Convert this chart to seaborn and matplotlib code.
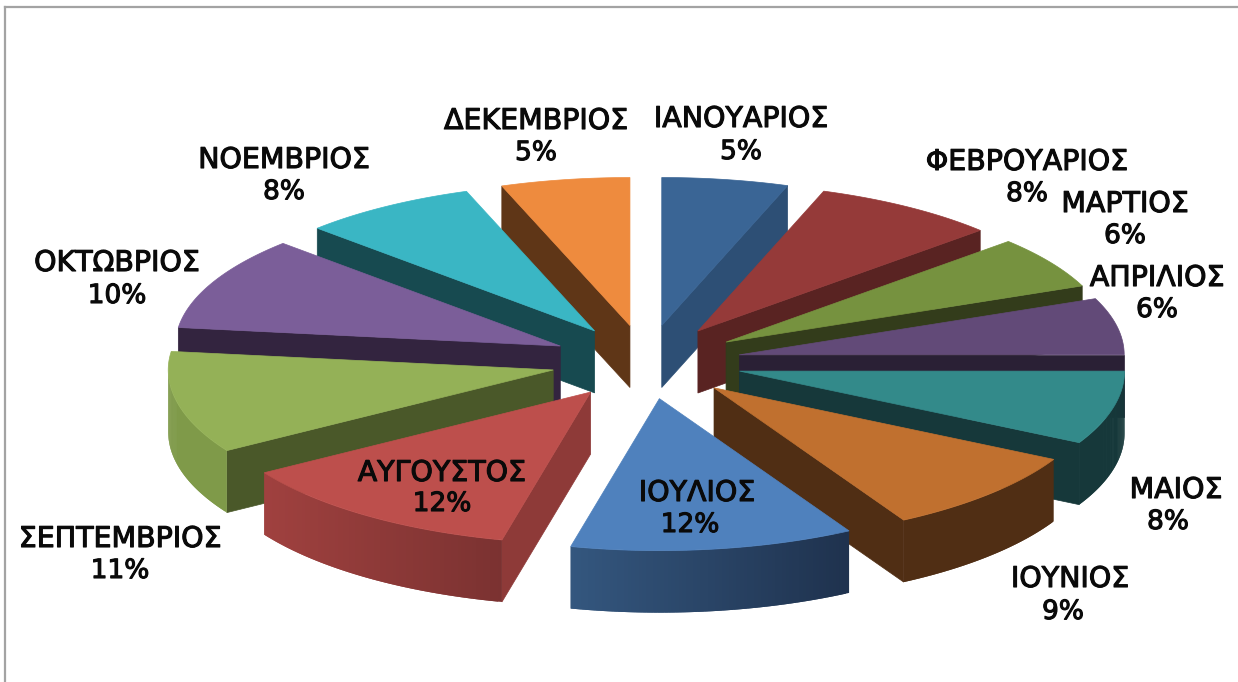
import numpy as np
import seaborn as sns
import matplotlib.pyplot as plt
import matplotlib.patheffects as pe
from matplotlib.colors import to_rgb

months = ['ΙΑΝΟΥΑΡΙΟΣ', 'ΦΕΒΡΟΥΑΡΙΟΣ', 'ΜΑΡΤΙΟΣ', 'ΑΠΡΙΛΙΟΣ', 'ΜΑΙΟΣ', 'ΙΟΥΝΙΟΣ',
          'ΙΟΥΛΙΟΣ', 'ΑΥΓΟΥΣΤΟΣ', 'ΣΕΠΤΕΜΒΡΙΟΣ', 'ΟΚΤΩΒΡΙΟΣ', 'ΝΟΕΜΒΡΙΟΣ', 'ΔΕΚΕΜΒΡΙΟΣ']
# printed percentages, and the shares
labels = [5, 8, 6, 6, 8, 9, 12, 12, 11, 10, 8, 5]
shares = [5.3, 7.8, 5.7, 6.2, 7.8, 9.0, 11.9, 12.4, 10.9, 10.2, 7.4, 5.4]

top_colors = ['#3a6595', '#953a39', '#76923f', '#624a78', '#338a8a', '#c0702f',
              '#4f81bd', '#bd4f4c', '#94b157', '#7b5e99', '#3ab6c4', '#ee8b3e']
face_colors = ['#2d4f75', '#592322', '#333c1b', '#2a2035', '#16383a', '#502e14',
               '#2d4f75', '#8e3a38', '#4a5829', '#33243f', '#174a50', '#5f3617']
wall_left = ['#2d4f75', '#592322', '#333c1b', '#2a2035', '#16383a', '#502e14',
             '#34577f', '#a0413f', '#7f9a49', '#33243f', '#174a50', '#5f3617']
wall_right = ['#2d4f75', '#592322', '#333c1b', '#2a2035', '#16383a', '#502e14',
              '#1f324e', '#7b3231', '#7f9a49', '#33243f', '#174a50', '#5f3617']
pull = [1, 1, 1, 1, 1.015, 1, 1, 1, 1, 1, 1, 1]

name_pos = [(741, 119), (1027, 162), (1125, 204), (1157, 278), (1176, 490), (1070, 579),
            (697, 493), (442, 473), (120, 539), (117, 263), (284, 160), (536, 121)]
value_pos = [(741, 152), (1027, 194), (1125, 236), (1157, 310), (1168, 522), (1063, 612),
             (690, 525), (442, 504), (120, 571), (117, 296), (284, 192), (536, 153)]

# pie geometry in pixels, the front half of the rim is a bit rounder
CX, CY = 646, 362
RX, RY, RY_FRONT = 385, 148, 152
EXPLODE_X, EXPLODE_Y = 95, 37
DEPTH = 62


def rim(apex, theta):
    # theta in degrees, clockwise from the top of the pie
    t = np.radians(theta)
    c = np.cos(t)
    return apex[0] + RX * np.sin(t), apex[1] - np.where(c < 0, RY_FRONT, RY) * c


def drawSlice(ax, start, end, i):
    mid = np.radians((start + end) / 2)
    apex = (CX + pull[i] * EXPLODE_X * np.sin(mid), CY - pull[i] * EXPLODE_Y * np.cos(mid))

    # cut faces that look towards the viewer
    for angle, seen in ((end, np.sin(np.radians(end)) > 1e-6), (start, np.sin(np.radians(start)) < -1e-6)):
        if seen:
            x, y = rim(apex, angle)
            ax.fill([apex[0], x, x, apex[0]], [apex[1], y, y + DEPTH, apex[1] + DEPTH],
                    color=face_colors[i], lw=0.5, zorder=2)

    # outer wall, only the front half of the rim shows
    lo, hi = max(start, 90), min(end, 270)
    if hi > lo:
        steps = np.linspace(lo, hi, 80)
        xs, ys = rim(apex, steps)
        left, right = np.array(to_rgb(wall_left[i])), np.array(to_rgb(wall_right[i]))
        for k in range(len(steps) - 1):
            f = (xs[k] - xs.min()) / (xs.max() - xs.min())
            c = left + (right - left) * f
            # each strip runs one step past the next so no seams show
            n = min(k + 2, len(steps) - 1)
            px = np.r_[xs[k:n + 1], xs[k:n + 1][::-1]]
            py = np.r_[ys[k:n + 1], ys[k:n + 1][::-1] + DEPTH]
            ax.fill(px, py, color=c, lw=0, zorder=2)

    arc = np.linspace(start, end, 80)
    xs, ys = rim(apex, arc)
    ax.fill(np.r_[apex[0], xs], np.r_[apex[1], ys], color=top_colors[i], lw=0.5, zorder=2)


sns.set_theme(style='white')
plt.rcParams['font.family'] = ['DejaVu Sans']

fig = plt.figure(figsize=(12.38, 6.82), dpi=100)
ax = fig.add_axes([5 / 1238, 0, 1 - 5 / 1238, 1 - 7 / 682])
ax.set_xlim(5, 1238)
ax.set_ylim(682, 7)
ax.set_xticks([])
ax.set_yticks([])
sns.despine(ax=ax, right=True, bottom=True, top=False, left=False)
for side in ('left', 'top'):
    ax.spines[side].set_color('#a3a3a3')
    ax.spines[side].set_linewidth(1.6)

edges = np.cumsum([0] + shares) * 360 / sum(shares)
mids = (edges[:-1] + edges[1:]) / 2
# back slices first so the front ones cover them
for i in sorted(range(len(shares)), key=lambda n: -np.cos(np.radians(mids[n]))):
    drawSlice(ax, edges[i], edges[i + 1], i)

thicker = [pe.withStroke(linewidth=0.8, foreground='#0a0a0a')]
for i, name in enumerate(months):
    ax.text(*name_pos[i], name, ha='center', va='center', fontsize=20.5,
            color='#0a0a0a', zorder=5, path_effects=thicker)
    ax.text(*value_pos[i], f'{labels[i]}%', ha='center', va='center', fontsize=19,
            color='#0a0a0a', zorder=5, path_effects=thicker)

fig.savefig('out.png', dpi=100)
